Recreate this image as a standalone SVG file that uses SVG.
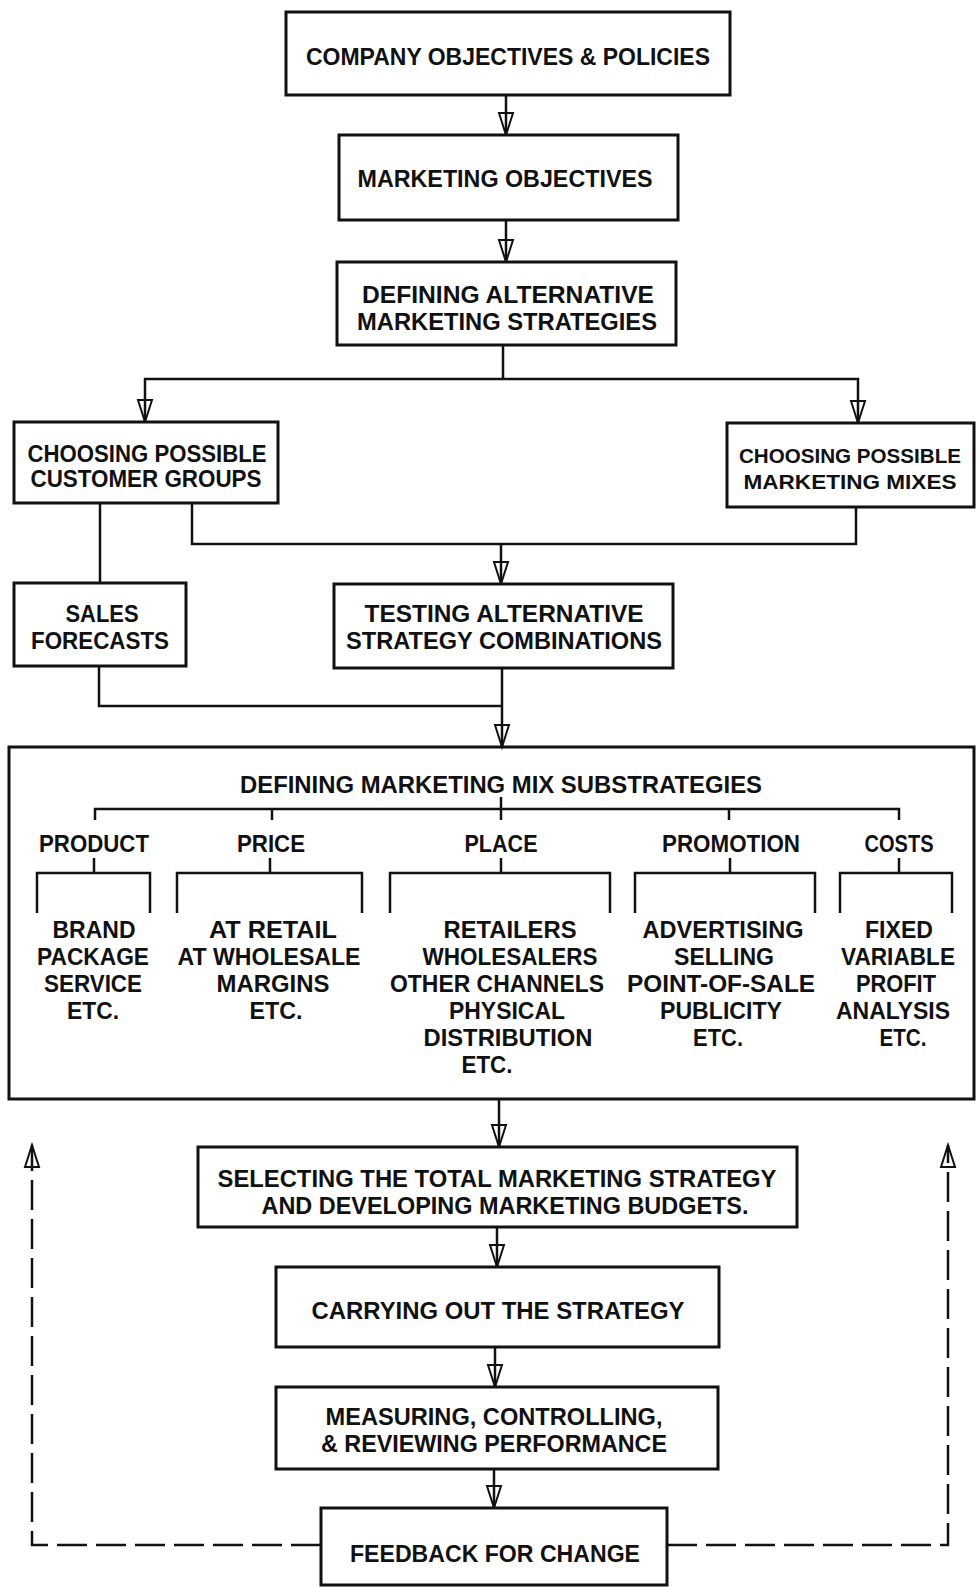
<svg xmlns="http://www.w3.org/2000/svg" width="977" height="1588" viewBox="0 0 977 1588">
<style>
.box{fill:#fff;stroke:#111;stroke-width:3}
.frame{fill:none;stroke:#111;stroke-width:3}
.ln{fill:none;stroke:#111;stroke-width:2.5}
.dash{fill:none;stroke:#111;stroke-width:2.5;stroke-dasharray:30 9}
text{font-family:"Liberation Sans",Arial,sans-serif;font-weight:bold;font-size:23px;fill:#111;text-anchor:middle}
.sm{font-size:21px}
</style>
<defs>
<marker id="ah" markerUnits="userSpaceOnUse" viewBox="-25 -10 27 20" markerWidth="27" markerHeight="20" refX="0" refY="0" orient="auto" overflow="visible">
<path d="M-22,-7 L0,0 L-22,7 Z" fill="none" stroke="#111" stroke-width="2"/>
</marker>
</defs>
<rect width="977" height="1588" fill="#fff"/>
<g id="connectors">
<path class="ln" d="M506,95 V135" marker-end="url(#ah)"/>
<path class="ln" d="M506,220 V262" marker-end="url(#ah)"/>
<path class="ln" d="M503,345 V379"/>
<path class="ln" d="M503,379 H145 V422" marker-end="url(#ah)"/>
<path class="ln" d="M503,379 H858 V423" marker-end="url(#ah)"/>
<path class="ln" d="M100,503 V583"/>
<path class="ln" d="M192,503 V544 H856 V507"/>
<path class="ln" d="M501,544 V584" marker-end="url(#ah)"/>
<path class="ln" d="M99,666 V706 H502"/>
<path class="ln" d="M502,668 V747" marker-end="url(#ah)"/>
<path class="ln" d="M501,797 V809"/>
<path class="ln" d="M95,820 V809 H899 V820"/>
<path class="ln" d="M272,809 V820 M501,809 V820 M729,809 V820"/>
<path class="ln" d="M94,858 V873 M270,858 V873 M501,858 V873 M730,858 V873 M899,858 V873"/>
<path class="ln" d="M37,913 V873 H150 V913"/>
<path class="ln" d="M177,913 V873 H362 V913"/>
<path class="ln" d="M390,913 V873 H610 V913"/>
<path class="ln" d="M635,913 V873 H815 V913"/>
<path class="ln" d="M840,913 V873 H952 V913"/>
<path class="ln" d="M499,1099 V1147" marker-end="url(#ah)"/>
<path class="ln" d="M497,1227 V1267" marker-end="url(#ah)"/>
<path class="ln" d="M495,1347 V1387" marker-end="url(#ah)"/>
<path class="ln" d="M494,1469 V1508" marker-end="url(#ah)"/>
<path class="dash" d="M321,1545 H32 V1145" marker-end="url(#ah)"/>
<path class="dash" d="M667,1545 H948 V1145" marker-end="url(#ah)"/>
</g>
<g id="company">
<rect class="box" x="286" y="12" width="444" height="83"/>
<text x="508" y="65" textLength="404" lengthAdjust="spacingAndGlyphs">COMPANY OBJECTIVES &amp; POLICIES</text>
</g>
<g id="marketing-objectives">
<rect class="box" x="339" y="135" width="339" height="85"/>
<text x="505" y="187" textLength="295" lengthAdjust="spacingAndGlyphs">MARKETING OBJECTIVES</text>
</g>
<g id="defining-alternative">
<rect class="box" x="337" y="262" width="339" height="83"/>
<text x="508" y="303" textLength="292" lengthAdjust="spacingAndGlyphs">DEFINING ALTERNATIVE</text>
<text x="507" y="330" textLength="300" lengthAdjust="spacingAndGlyphs">MARKETING STRATEGIES</text>
</g>
<g id="customer-groups">
<rect class="box" x="14" y="422" width="264" height="81"/>
<text x="147" y="462" textLength="239" lengthAdjust="spacingAndGlyphs">CHOOSING POSSIBLE</text>
<text x="146" y="487" textLength="231" lengthAdjust="spacingAndGlyphs">CUSTOMER GROUPS</text>
</g>
<g id="marketing-mixes">
<rect class="box" x="727" y="423" width="247" height="84"/>
<text class="sm" x="850" y="463" textLength="222" lengthAdjust="spacingAndGlyphs">CHOOSING POSSIBLE</text>
<text class="sm" x="850" y="489" textLength="213" lengthAdjust="spacingAndGlyphs">MARKETING MIXES</text>
</g>
<g id="sales-forecasts">
<rect class="box" x="14" y="583" width="172" height="83"/>
<text x="102" y="622" textLength="73" lengthAdjust="spacingAndGlyphs">SALES</text>
<text x="100" y="649" textLength="138" lengthAdjust="spacingAndGlyphs">FORECASTS</text>
</g>
<g id="testing">
<rect class="box" x="334" y="584" width="339" height="84"/>
<text x="504" y="622" textLength="279" lengthAdjust="spacingAndGlyphs">TESTING ALTERNATIVE</text>
<text x="504" y="649" textLength="316" lengthAdjust="spacingAndGlyphs">STRATEGY COMBINATIONS</text>
</g>
<g id="substrategies">
<rect class="frame" x="9" y="747" width="965" height="352"/>
<text x="501" y="793" textLength="522" lengthAdjust="spacingAndGlyphs">DEFINING MARKETING MIX SUBSTRATEGIES</text>
<text x="94" y="852" textLength="110" lengthAdjust="spacingAndGlyphs">PRODUCT</text>
<text x="271" y="852" textLength="68" lengthAdjust="spacingAndGlyphs">PRICE</text>
<text x="501" y="852" textLength="73" lengthAdjust="spacingAndGlyphs">PLACE</text>
<text x="731" y="852" textLength="138" lengthAdjust="spacingAndGlyphs">PROMOTION</text>
<text x="899" y="852" textLength="69" lengthAdjust="spacingAndGlyphs">COSTS</text>
<text x="94" y="938" textLength="83" lengthAdjust="spacingAndGlyphs">BRAND</text>
<text x="93" y="965" textLength="112" lengthAdjust="spacingAndGlyphs">PACKAGE</text>
<text x="93" y="992" textLength="98" lengthAdjust="spacingAndGlyphs">SERVICE</text>
<text x="93" y="1019" textLength="52" lengthAdjust="spacingAndGlyphs">ETC.</text>
<text x="273" y="938" textLength="128" lengthAdjust="spacingAndGlyphs">AT RETAIL</text>
<text x="269" y="965" textLength="183" lengthAdjust="spacingAndGlyphs">AT WHOLESALE</text>
<text x="273" y="992" textLength="113" lengthAdjust="spacingAndGlyphs">MARGINS</text>
<text x="276" y="1019" textLength="53" lengthAdjust="spacingAndGlyphs">ETC.</text>
<text x="510" y="938" textLength="133" lengthAdjust="spacingAndGlyphs">RETAILERS</text>
<text x="510" y="965" textLength="175" lengthAdjust="spacingAndGlyphs">WHOLESALERS</text>
<text x="497" y="992" textLength="214" lengthAdjust="spacingAndGlyphs">OTHER CHANNELS</text>
<text x="507" y="1019" textLength="116" lengthAdjust="spacingAndGlyphs">PHYSICAL</text>
<text x="508" y="1046" textLength="169" lengthAdjust="spacingAndGlyphs">DISTRIBUTION</text>
<text x="487" y="1073" textLength="51" lengthAdjust="spacingAndGlyphs">ETC.</text>
<text x="723" y="938" textLength="161" lengthAdjust="spacingAndGlyphs">ADVERTISING</text>
<text x="724" y="965" textLength="100" lengthAdjust="spacingAndGlyphs">SELLING</text>
<text x="721" y="992" textLength="188" lengthAdjust="spacingAndGlyphs">POINT-OF-SALE</text>
<text x="721" y="1019" textLength="122" lengthAdjust="spacingAndGlyphs">PUBLICITY</text>
<text x="718" y="1046" textLength="50" lengthAdjust="spacingAndGlyphs">ETC.</text>
<text x="899" y="938" textLength="68" lengthAdjust="spacingAndGlyphs">FIXED</text>
<text x="898" y="965" textLength="114" lengthAdjust="spacingAndGlyphs">VARIABLE</text>
<text x="896" y="992" textLength="80" lengthAdjust="spacingAndGlyphs">PROFIT</text>
<text x="893" y="1019" textLength="114" lengthAdjust="spacingAndGlyphs">ANALYSIS</text>
<text x="903" y="1046" textLength="47" lengthAdjust="spacingAndGlyphs">ETC.</text>
</g>
<g id="selecting">
<rect class="box" x="198" y="1147" width="599" height="80"/>
<text x="497" y="1187" textLength="559" lengthAdjust="spacingAndGlyphs">SELECTING THE TOTAL MARKETING STRATEGY</text>
<text x="505" y="1214" textLength="487" lengthAdjust="spacingAndGlyphs">AND DEVELOPING MARKETING BUDGETS.</text>
</g>
<g id="carrying-out">
<rect class="box" x="276" y="1267" width="443" height="80"/>
<text x="498" y="1319" textLength="373" lengthAdjust="spacingAndGlyphs">CARRYING OUT THE STRATEGY</text>
</g>
<g id="measuring">
<rect class="box" x="276" y="1387" width="442" height="82"/>
<text x="494" y="1425" textLength="337" lengthAdjust="spacingAndGlyphs">MEASURING, CONTROLLING,</text>
<text x="494" y="1452" textLength="346" lengthAdjust="spacingAndGlyphs">&amp; REVIEWING PERFORMANCE</text>
</g>
<g id="feedback">
<rect class="box" x="321" y="1508" width="346" height="77"/>
<text x="495" y="1562" textLength="290" lengthAdjust="spacingAndGlyphs">FEEDBACK FOR CHANGE</text>
</g>
</svg>
